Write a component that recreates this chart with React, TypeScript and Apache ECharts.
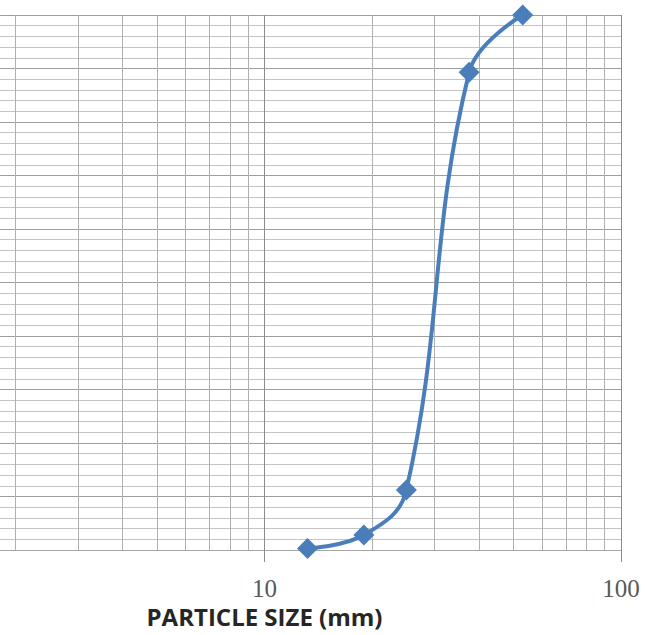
import React, { useEffect, useRef } from "react";
import * as echarts from "echarts";

// Particle size (mm) and percent passing
const sizes = [13.2, 19, 25, 37.5, 53];
const passing = [0.3, 2.8, 11.2, 89.3, 100];
// Log-scale minor grid positions
const minorXTicks = [2, 3, 4, 5, 6, 7, 8, 9, 20, 30, 40, 50, 60, 70, 80, 90];
const xTitle = "PARTICLE SIZE (mm)";

const SHIFT = 92; // part of the plot (from 1 to ~2 mm) lies left of the visible page

export default function App() {
  const ref = useRef<HTMLDivElement>(null);
  useEffect(() => {
    if (!ref.current) return;
    const chart = echarts.init(ref.current, null, { renderer: "svg" });
    chart.setOption({
      animation: false,
      backgroundColor: "#ffffff",
      grid: {
        left: 0,
        right: 24,
        top: 15,
        bottom: 85,
        containLabel: false,
        outerBoundsMode: "none",
      },
      xAxis: {
        type: "log",
        logBase: 10,
        min: 1,
        max: 100,
        name: xTitle,
        nameLocation: "middle",
        nameGap: 56,
        nameMoveOverlap: false,
        nameTextStyle: {
          fontFamily: "Open Sans",
          fontWeight: "bold",
          fontSize: 24,
          lineHeight: 20,
          color: "#262626",
        },
        axisLine: { show: true, lineStyle: { color: "#a6a6a6", width: 1 } },
        axisTick: { show: true, length: 12, lineStyle: { color: "#8c8c8c", width: 1 } },
        axisLabel: {
          show: true,
          showMinLabel: false,
          margin: 29,
          fontFamily: "Liberation Serif",
          fontSize: 25,
          lineHeight: 18,
          color: "#595959",
        },
        splitLine: { show: true, lineStyle: { color: "#8c8c8c", width: 1 } },
        minorTick: { show: false },
        minorSplitLine: { show: false },
      },
      yAxis: {
        type: "value",
        min: 0,
        max: 100,
        interval: 10,
        axisLine: { show: false },
        axisTick: { show: false },
        axisLabel: { show: false },
        splitLine: { show: true, lineStyle: { color: "#9e9e9e", width: 1 } },
        minorTick: { show: false, splitNumber: 5 },
        minorSplitLine: { show: true, lineStyle: { color: "#c4c4c4", width: 1 } },
      },
      series: [
        {
          type: "line",
          data: sizes.map((s, i) => [s, passing[i]]),
          smooth: 0.4,
          symbol: "diamond",
          symbolSize: 21,
          z: 5,
          lineStyle: { color: "#4a7ebb", width: 4 },
          itemStyle: { color: "#4a7ebb" },
          markLine: {
            silent: true,
            symbol: "none",
            z: 1,
            label: { show: false },
            lineStyle: { color: "#b0b0b0", width: 1, type: "solid" },
            data: minorXTicks.map((v) => ({ xAxis: v })),
          },
        },
      ],
    });
    return () => chart.dispose();
  }, []);
  return (
    <div style={{ position: "fixed", left: 0, top: 0, width: 645, height: 635, overflow: "hidden", background: "#fff" }}>
      <div
        ref={ref}
        style={{ position: "absolute", left: -SHIFT, top: 0, width: 645 + SHIFT, height: 635 }}
      />
    </div>
  );
}
